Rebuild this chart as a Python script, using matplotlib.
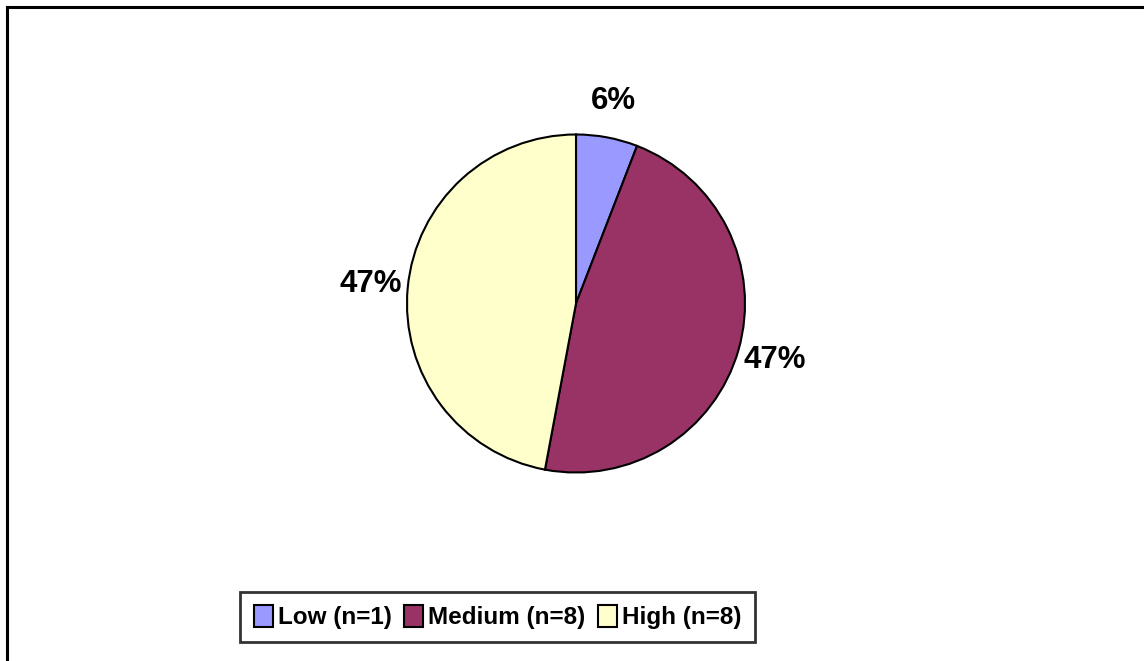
import matplotlib.pyplot as plt
from matplotlib.lines import Line2D

labels = ["Low (n=1)", "Medium (n=8)", "High (n=8)"]
counts = [1, 8, 8]
colors = ["#9999FF", "#993366", "#FFFFCC"]

W, H = 1144, 661
fig = plt.figure(figsize=(W / 100, H / 100), dpi=100)

# pie area (square in pixels)
cx, cy, r = 576, 303.5, 169
ax = fig.add_axes([(cx - r) / W, (H - cy - r) / H, 2 * r / W, 2 * r / H])
wedges, texts, autotexts = ax.pie(
    counts,
    colors=colors,
    startangle=90,
    counterclock=False,
    autopct=lambda p: f"{p:.0f}%",
    pctdistance=1.22,
    wedgeprops=dict(edgecolor="black", linewidth=1.5),
    textprops=dict(fontsize=22.5, fontweight="bold", family=["Liberation Sans", "DejaVu Sans"]),
)
ax.set_xlim(-1, 1)
ax.set_ylim(-1, 1)
ax.set_aspect("equal")

leg = fig.legend(
    wedges,
    labels,
    loc="center",
    bbox_to_anchor=(497.5 / W, 1 - 617 / H),
    ncol=3,
    frameon=True,
    fancybox=False,
    handlelength=0.8,
    handleheight=1.0,
    handletextpad=0.2,
    columnspacing=0.5,
    borderpad=0.55,
    borderaxespad=0,
    prop=dict(size=17.5, weight="bold", family=["Liberation Sans", "DejaVu Sans"]),
)
leg.get_frame().set_edgecolor("black")
leg.get_frame().set_linewidth(2)
for h in leg.legend_handles:
    h.set_edgecolor("black")
    h.set_linewidth(1.5)

# outer chart frame (only top and left edges visible in the crop)
x0 = 7 / W
y0 = 1 - 7 / H
fig.add_artist(Line2D([x0, x0], [0, y0], color="black", linewidth=2.2, transform=fig.transFigure))
fig.add_artist(Line2D([x0, 1], [y0, y0], color="black", linewidth=2.2, transform=fig.transFigure))

fig.savefig("out.png", dpi=100)
